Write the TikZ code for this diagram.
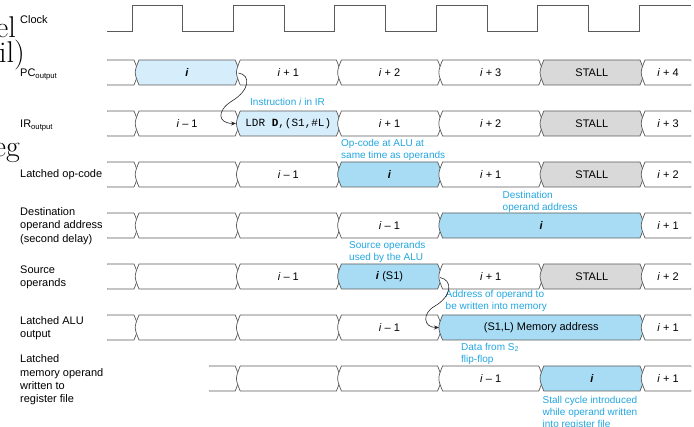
\documentclass[tikz,border=0pt]{standalone}
\usepackage{fontspec}
\setsansfont{Liberation Sans}
\setmonofont{Liberation Mono}
\usetikzlibrary{arrows.meta}
\definecolor{sigline}{HTML}{5A5A5A}
\definecolor{ltblue}{HTML}{D6EEFB}
\definecolor{midblue}{HTML}{A8DCF4}
\definecolor{stallgray}{HTML}{D9D9D9}
\definecolor{notecyan}{HTML}{22A6E0}

\tikzset{
  sigbox/.style={draw=sigline, line width=0.7pt},
  rowlabel/.style={font=\sffamily\fontsize{11}{13.3}\selectfont, anchor=west, inner sep=0pt, align=left},
  val/.style={font=\sffamily\fontsize{11}{13}\selectfont, inner sep=0pt},
  note/.style={text=notecyan, font=\sffamily\fontsize{10}{12}\selectfont, anchor=west, align=left, inner sep=0pt},
  cut/.style={font=\rmfamily\fontsize{30}{32}\selectfont, anchor=base east, inner sep=0pt}
}

% one bus value between two transitions: left x, right x, row y, fill
\newcommand{\sigseg}[4]{%
  \filldraw[sigbox, fill=#4] (#1+2.5,#3-12.5) -- (#2-2.5,#3-12.5) .. controls (#2+2.5,#3) .. (#2-2.5,#3+12.5)
    -- (#1+2.5,#3+12.5) .. controls (#1-2.5,#3) .. cycle;
}

\begin{document}
\begin{tikzpicture}[x=1pt, y=-1pt, >={Stealth[length=5pt, width=4pt]}]

\useasboundingbox (0,0) rectangle (694,427);

% Cut-off text at the left edge
\node[cut] (cutA) at (16,38) {el};
\node[cut] (cutB) at (25,63) {il)};
\node[cut] (cutC) at (20,157) {eg};

% Row labels
\node[rowlabel, anchor=base west] (lbClk) at (20,24) {Clock};
\node[rowlabel, anchor=base west] (lbPC) at (20,77) {PC\textsubscript{output}};
\node[rowlabel, anchor=base west] (lbIR) at (20,128) {IR\textsubscript{output}};
\node[rowlabel] (lbOp) at (20,174.5) {Latched op-code};
\node[rowlabel] (lbDest) at (20,226) {Destination\\operand address\\(second delay)};
\node[rowlabel] (lbSrc) at (20,277) {Source\\operands};
\node[rowlabel] (lbALU) at (20,328) {Latched ALU\\output};
\node[rowlabel] (lbMem) at (20,380) {Latched\\memory operand\\written to\\register file};

% --- Clock ---
\draw[sigline, line width=0.7pt] (107,31) -- (132,31) -- (132,5) -- (182.7,5) -- (182.7,31)
  -- (233.4,31) -- (233.4,5) -- (284.1,5) -- (284.1,31) -- (334.8,31) -- (334.8,5)
  -- (385.5,5) -- (385.5,31) -- (436.2,31) -- (436.2,5) -- (486.9,5) -- (486.9,31)
  -- (537.6,31) -- (537.6,5) -- (588.3,5) -- (588.3,31) -- (639,31) -- (639,5) -- (691,5);

% --- PC output ---
\begin{scope}
\clip (107,55) rectangle (691,90);
\foreach \a/\b/\f/\t [count=\n] in {104.5/136.5/white/{}, 136.5/237.7/ltblue/{\textbf{\textit{i}}},
    237.7/338.9/white/{\textit{i} + 1}, 338.9/440.1/white/{\textit{i} + 2}, 440.1/541.3/white/{\textit{i} + 3},
    541.3/642.5/stallgray/{STALL}, 642.5/693.5/white/{\textit{i} + 4}}{
  \sigseg{\a}{\b}{72.5}{\f}
  \node[val] (pc\n) at ({(\a+\b)/2},72.5) {\t};
}
\end{scope}

% --- IR output ---
\begin{scope}
\clip (107,106) rectangle (691,141);
\foreach \a/\b/\f/\t [count=\n] in {104.5/136.5/white/{}, 136.5/237.7/white/{\textit{i} – 1},
    237.7/338.9/ltblue/{\texttt{LDR \textbf{D},(S1,\#L)}}, 338.9/440.1/white/{\textit{i} + 1}, 440.1/541.3/white/{\textit{i} + 2},
    541.3/642.5/stallgray/{STALL}, 642.5/693.5/white/{\textit{i} + 3}}{
  \sigseg{\a}{\b}{123.5}{\f}
  \node[val] (ir\n) at ({(\a+\b)/2},123.5) {\t};
}
\end{scope}

% --- Latched op-code ---
\begin{scope}
\clip (107,157) rectangle (691,192);
\foreach \a/\b/\f/\t [count=\n] in {104.5/136.5/white/{}, 136.5/237.7/white/{},
    237.7/338.9/white/{\textit{i} – 1}, 338.9/440.1/midblue/{\textbf{\textit{i}}}, 440.1/541.3/white/{\textit{i} + 1},
    541.3/642.5/stallgray/{STALL}, 642.5/693.5/white/{\textit{i} + 2}}{
  \sigseg{\a}{\b}{174.5}{\f}
  \node[val] (op\n) at ({(\a+\b)/2},174.5) {\t};
}
\end{scope}

% --- Destination operand address ---
\begin{scope}
\clip (107,208) rectangle (691,243);
\foreach \a/\b/\f/\t [count=\n] in {104.5/136.5/white/{}, 136.5/237.7/white/{},
    237.7/338.9/white/{}, 338.9/440.1/white/{\textit{i} – 1}, 440.1/642.5/midblue/{\textbf{\textit{i}}},
    642.5/693.5/white/{\textit{i} + 1}}{
  \sigseg{\a}{\b}{225.5}{\f}
  \node[val] (dst\n) at ({(\a+\b)/2},225.5) {\t};
}
\end{scope}

% --- Source operands ---
\begin{scope}
\clip (107,259) rectangle (691,294);
\foreach \a/\b/\f/\t [count=\n] in {104.5/136.5/white/{}, 136.5/237.7/white/{},
    237.7/338.9/white/{\textit{i} – 1}, 338.9/440.1/midblue/{\textbf{\textit{i}} (S1)}, 440.1/541.3/white/{\textit{i} + 1},
    541.3/642.5/stallgray/{STALL}, 642.5/693.5/white/{\textit{i} + 2}}{
  \sigseg{\a}{\b}{276.5}{\f}
  \node[val] (src\n) at ({(\a+\b)/2},276.5) {\t};
}
\end{scope}

% --- Latched ALU output ---
\begin{scope}
\clip (107,310) rectangle (691,345);
\foreach \a/\b/\f/\t [count=\n] in {104.5/136.5/white/{}, 136.5/237.7/white/{},
    237.7/338.9/white/{}, 338.9/440.1/white/{\textit{i} – 1}, 440.1/642.5/midblue/{(S1,L) Memory address},
    642.5/693.5/white/{\textit{i} + 1}}{
  \sigseg{\a}{\b}{327.5}{\f}
  \node[val] (alu\n) at ({(\a+\b)/2},327.5) {\t};
}
\end{scope}

% --- Latched memory operand ---
\begin{scope}
\clip (209,361) rectangle (691,396);
\foreach \a/\b/\f/\t [count=\n] in {206.5/237.7/white/{}, 237.7/338.9/white/{},
    338.9/440.1/white/{}, 440.1/541.3/white/{\textit{i} – 1}, 541.3/642.5/midblue/{\textbf{\textit{i}}},
    642.5/693.5/white/{\textit{i} + 1}}{
  \sigseg{\a}{\b}{378.5}{\f}
  \node[val] (mem\n) at ({(\a+\b)/2},378.5) {\t};
}
\end{scope}

% Notes
\node[note] (noteIR) at (250,101.7) {Instruction \textit{i} in IR};
\node[note] (noteOp) at (341,149.5) {Op-code at ALU at\\same time as operands};
\node[note] (noteDest) at (502.5,201.5) {Destination\\operand address};
\node[note] (noteSrc) at (349,251.5) {Source operands\\used by the ALU};
\node[note] (noteAddr) at (445.5,300.5) {Address of operand to\\be written into memory};
\node[note] (noteData) at (461,353.5) {Data from S\textsubscript{2}\\flip-flop};
\node[note] (noteStall) at (542.5,412.7) {Stall cycle introduced\\while operand written\\into register file};

% Hand-over arrows
\coordinate (pcOut) at (238.5,73);
\coordinate (irIn) at (236,123.5);
\coordinate (srcOut) at (440,277.5);
\coordinate (aluIn) at (439,327.5);
\draw[->, black!85, line width=0.6pt] (pcOut) .. controls (251,75) and (250,90) .. (232,101)
  .. controls (216,111) and (218,123.5) .. (irIn);
\draw[->, black!85, line width=0.6pt] (srcOut) .. controls (453,280) and (452,296) .. (435,306)
  .. controls (422,313) and (423,327.5) .. (aluIn);

\end{tikzpicture}
\end{document}
